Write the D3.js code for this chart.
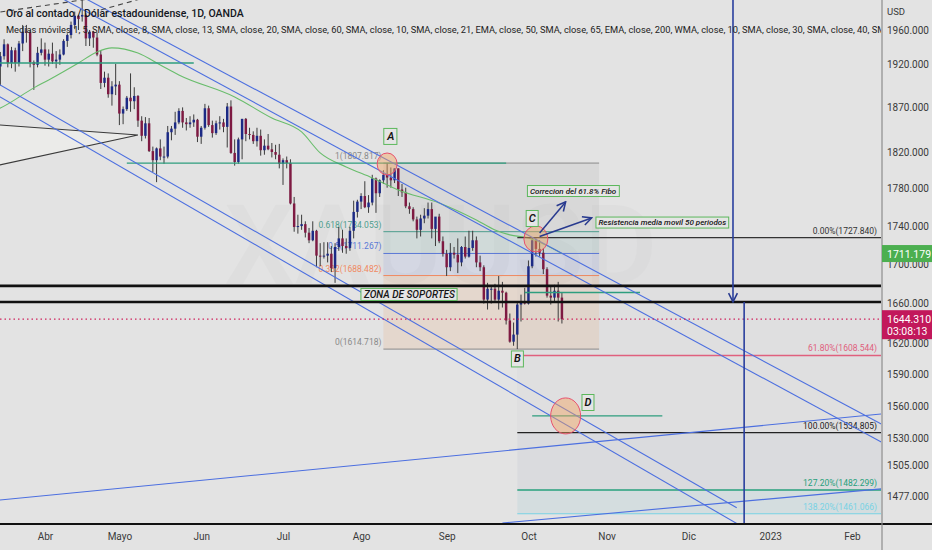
<!DOCTYPE html>
<html>
<head>
<meta charset="utf-8">
<title>XAUUSD 1D</title>
<script src="https://cdnjs.cloudflare.com/ajax/libs/d3/7.8.5/d3.min.js"></script>
<style>
  body { margin: 0; background: #e3e3e3; }
  #chart { width: 932px; height: 550px; }
  text { font-family: Roboto, "Noto Sans", sans-serif; }
</style>
</head>
<body>
<div id="chart"></div>
<script>

// date, open, high, low, close
var candles = [
  ["2022-03-14",1985,1986,1950,1952],["2022-03-15",1952,1954,1906,1917],["2022-03-16",1917,1934,1895,1929],
  ["2022-03-17",1929,1949,1925,1943],["2022-03-18",1943,1944,1916,1921],["2022-03-21",1921,1940,1915,1936],
  ["2022-03-22",1936,1939,1911,1921],["2022-03-23",1921,1947,1917,1944],["2022-03-24",1944,1966,1935,1958],
  ["2022-03-25",1958,1966,1945,1957],["2022-03-28",1957,1960,1916,1922],["2022-03-29",1922,1924,1890,1919],
  ["2022-03-30",1919,1940,1916,1933],["2022-03-31",1933,1950,1930,1937],
  ["2022-04-01",1937,1945,1918,1925],["2022-04-04",1925,1937,1917,1932],["2022-04-05",1932,1945,1920,1923],
  ["2022-04-06",1923,1935,1915,1925],["2022-04-07",1925,1937,1919,1931],["2022-04-08",1931,1949,1930,1947],
  ["2022-04-11",1947,1956,1940,1954],["2022-04-12",1954,1970,1950,1966],["2022-04-13",1966,1982,1961,1977],
  ["2022-04-14",1977,1978,1960,1973],["2022-04-18",1976,1998,1970,1978],["2022-04-19",1978,1980,1941,1950],
  ["2022-04-20",1950,1960,1941,1958],["2022-04-21",1958,1959,1939,1951],["2022-04-22",1951,1957,1929,1931],
  ["2022-04-25",1931,1936,1891,1898],["2022-04-26",1898,1911,1893,1904],["2022-04-27",1904,1909,1881,1885],
  ["2022-04-28",1885,1900,1872,1894],["2022-04-29",1894,1920,1884,1896],
  ["2022-05-02",1896,1900,1850,1863],["2022-05-03",1863,1871,1851,1868],["2022-05-04",1868,1883,1866,1881],
  ["2022-05-05",1881,1909,1865,1877],["2022-05-06",1877,1893,1868,1883],["2022-05-09",1883,1884,1848,1855],
  ["2022-05-10",1855,1860,1832,1838],["2022-05-11",1838,1859,1835,1852],["2022-05-12",1852,1858,1820,1821],
  ["2022-05-13",1821,1826,1798,1811],["2022-05-16",1811,1825,1787,1824],["2022-05-17",1824,1834,1811,1815],
  ["2022-05-18",1815,1826,1807,1815],["2022-05-19",1815,1849,1813,1842],["2022-05-20",1842,1849,1833,1846],
  ["2022-05-23",1846,1865,1839,1853],["2022-05-24",1853,1869,1851,1866],["2022-05-25",1866,1870,1847,1853],
  ["2022-05-26",1853,1858,1844,1851],["2022-05-27",1851,1860,1847,1853],["2022-05-30",1853,1862,1848,1856],
  ["2022-05-31",1856,1857,1831,1837],
  ["2022-06-01",1837,1849,1829,1847],["2022-06-02",1847,1874,1845,1869],["2022-06-03",1869,1872,1848,1850],
  ["2022-06-06",1850,1855,1836,1841],["2022-06-07",1841,1855,1839,1852],["2022-06-08",1852,1860,1845,1853],
  ["2022-06-09",1853,1857,1842,1848],["2022-06-10",1848,1875,1825,1871],["2022-06-13",1871,1878,1818,1819],
  ["2022-06-14",1819,1834,1805,1809],["2022-06-15",1809,1836,1807,1834],["2022-06-16",1834,1857,1812,1857],
  ["2022-06-17",1857,1858,1832,1840],["2022-06-20",1840,1847,1834,1839],["2022-06-21",1839,1843,1829,1832],
  ["2022-06-22",1832,1847,1826,1838],["2022-06-23",1838,1845,1816,1822],["2022-06-24",1822,1834,1817,1827],
  ["2022-06-27",1827,1840,1822,1823],["2022-06-28",1823,1830,1814,1820],["2022-06-29",1820,1828,1812,1817],
  ["2022-06-30",1817,1829,1802,1807],
  ["2022-07-01",1807,1813,1784,1811],["2022-07-04",1811,1815,1802,1808],["2022-07-05",1808,1812,1763,1764],
  ["2022-07-06",1764,1771,1734,1739],["2022-07-07",1739,1752,1732,1740],["2022-07-08",1740,1752,1736,1742],
  ["2022-07-11",1742,1745,1728,1733],["2022-07-12",1733,1738,1722,1725],["2022-07-13",1725,1745,1724,1735],
  ["2022-07-14",1735,1736,1697,1709],["2022-07-15",1709,1722,1698,1708],["2022-07-18",1708,1723,1706,1709],
  ["2022-07-19",1709,1723,1702,1711],["2022-07-20",1711,1719,1692,1696],["2022-07-21",1696,1722,1681,1718],
  ["2022-07-22",1718,1739,1714,1727],["2022-07-25",1727,1736,1712,1719],["2022-07-26",1719,1727,1711,1717],
  ["2022-07-27",1717,1739,1714,1735],["2022-07-28",1735,1767,1727,1755],["2022-07-29",1755,1768,1749,1766],
  ["2022-08-01",1766,1775,1758,1772],["2022-08-02",1772,1788,1759,1760],["2022-08-03",1760,1773,1754,1765],
  ["2022-08-04",1765,1795,1762,1791],["2022-08-05",1791,1792,1754,1775],["2022-08-08",1775,1790,1771,1789],
  ["2022-08-09",1789,1800,1785,1795],["2022-08-10",1795,1807.82,1781,1792],["2022-08-11",1792,1803,1781,1789],
  ["2022-08-12",1789,1802,1786,1802],["2022-08-15",1802,1802,1772,1779],["2022-08-16",1779,1785,1771,1776],
  ["2022-08-17",1776,1781,1759,1761],["2022-08-18",1761,1765,1753,1758],["2022-08-19",1758,1760,1745,1747],
  ["2022-08-22",1747,1750,1727,1736],["2022-08-23",1736,1752,1729,1748],["2022-08-24",1748,1759,1743,1751],
  ["2022-08-25",1751,1765,1748,1758],["2022-08-26",1758,1765,1727,1737],["2022-08-29",1737,1745,1719,1750],
  ["2022-08-30",1750,1753,1722,1724],["2022-08-31",1724,1729,1708,1711],
  ["2022-09-01",1711,1715,1688,1697],["2022-09-02",1697,1722,1693,1712],["2022-09-05",1712,1718,1706,1710],
  ["2022-09-06",1710,1727,1691,1702],["2022-09-07",1702,1719,1698,1718],["2022-09-08",1718,1729,1706,1708],
  ["2022-09-09",1708,1735,1707,1717],["2022-09-12",1717,1735,1714,1725],["2022-09-13",1725,1729,1697,1702],
  ["2022-09-14",1702,1709,1693,1697],["2022-09-15",1697,1699,1660,1664],["2022-09-16",1664,1681,1654,1675],
  ["2022-09-19",1675,1678,1660,1675],["2022-09-20",1675,1680,1662,1664],["2022-09-21",1664,1688,1654,1673],
  ["2022-09-22",1673,1682,1656,1671],["2022-09-23",1671,1672,1639,1643],["2022-09-26",1643,1650,1621,1622],
  ["2022-09-27",1622,1641,1618,1629],["2022-09-28",1629,1661,1614.72,1659],["2022-09-29",1659,1669,1642,1661],
  ["2022-09-30",1661,1676,1659,1660],
  ["2022-10-03",1660,1704,1659,1698],["2022-10-04",1698,1727.84,1696,1725],["2022-10-05",1725,1727,1708,1716],
  ["2022-10-06",1716,1725,1708,1712],["2022-10-07",1712,1717,1690,1695],["2022-10-10",1695,1697,1666,1668],
  ["2022-10-11",1668,1678,1659,1666],["2022-10-12",1666,1679,1662,1673],["2022-10-13",1673,1682,1642,1666],
  ["2022-10-14",1666,1671,1640,1644.31]
];

var holidays = ["2022-04-15"];

// moving average line
var maPoints = [
  ["2022-03-14",1866],["2022-03-16",1869.4],["2022-03-29",1892.3],["2022-04-04",1901.4],["2022-04-14",1921.1],
  ["2022-04-22",1934.0],["2022-04-28",1938.8],["2022-05-09",1932.7],["2022-05-17",1918.8],["2022-05-24",1907.2],
  ["2022-06-14",1881.9],["2022-06-28",1858.0],["2022-07-08",1842.3],["2022-07-15",1819.0],["2022-07-26",1803.6],
  ["2022-08-04",1791.6],["2022-08-15",1778.5],["2022-08-30",1764.5],["2022-09-13",1746.4],["2022-09-20",1735.9],
  ["2022-09-26",1730.7],["2022-10-03",1727.5],["2022-10-14",1711.179]
];

var priceTicks = [1960,1920,1870,1820,1780,1740,1700,1660,1620,1590,1560,1530,1505,1477];
var monthTicks = ["2022-04-01","2022-05-02","2022-06-01","2022-07-01","2022-08-01","2022-09-01",
  "2022-10-03","2022-11-01","2022-12-01","2023-01-02","2023-02-01"];
var monthLabels = ["Abr","Mayo","Jun","Jul","Ago","Sep","Oct","Nov","Dic","2023","Feb"];

var fibRetLevels = ["1","0.618","0.5","0.382","0"];
var fibRetPrices = [1807.817,1734.053,1711.267,1688.482,1614.718];
var fibRetSpan = ["2022-08-09","2022-10-28"];

var fibExtLevels = ["0.00%","61.80%","100.00%","127.20%","138.20%"];
var fibExtPrices = [1727.840,1608.544,1534.805,1482.299,1461.066];
var fibExtStart = "2022-09-28";

// [date1, price1, date2, price2, extend]
var trendLines = [
  ["2022-04-25",1972.6,"2023-01-09",1573.2,"both"],
  ["2022-04-25",1987.8,"2023-01-09",1589.9,"both"],
  ["2022-03-14",1900.4,"2022-12-20",1466.4,"none"],
  ["2022-03-14",1886.6,"2022-12-26",1444.9,"none"],
  ["2022-03-14",1472.7,"2023-02-10",1552.1,"right"],
  ["2022-09-22",1452.9,"2023-02-10",1483.1,"right"]
];
var dashedLines = [
  ["2022-03-16",1981.5,"2022-04-18",1996.0,"right"],
  ["2022-04-25",1984.0,"2022-05-05",1994.0,"right"]
];
var wedgePoints = [["2022-03-14",1850.7],["2022-05-09",1838.9],["2022-03-14",1804.1]];

var supportPrices = [1677.9,1661.6];
// [from, to, price]
var greenLevels = [
  ["2022-03-14","2022-05-30",1921.1],
  ["2022-05-04","2022-09-23",1807.8],
  ["2022-09-30","2022-11-14",1671.2],
  ["2022-10-04","2022-11-22",1550.5]
];
var projectionDates = ["2022-12-19","2022-12-22"];
var projectionPrice = 1661.6;

var circleMarks = [["2022-08-10",1806.8],["2022-10-05",1726.4],["2022-10-17",1550.5]];
var pointLabels = [["A","2022-08-11",1837.3],["B","2022-09-28",1605.1],["C","2022-10-04",1748.0],["D","2022-10-25",1563.2]];
var noteLabels = [
  ["ZONA DE SOPORTES","2022-08-18",1669.2],
  ["Correcion del 61.8% Fibo","2022-10-19",1777.4],
  ["Resistencia media movil 50 periodos","2022-11-22",1743.7]
];
var arrows = [["2022-10-06",1732.7,"2022-10-17",1765.7],["2022-10-06",1729.0,"2022-10-26",1748.6]];

var titleText = "Oro al contado / Dólar estadounidense, 1D, OANDA";
var studyText = "Medias móviles 1, 5, SMA, close, 8, SMA, close, 13, SMA, close, 20, SMA, close, 60, SMA, close, 10, SMA, close, 21, EMA, close, 50, SMA, close, 65, EMA, close, 200, WMA, close, 10, SMA, close, 30, SMA, close, 40, SMA, close, 100";
var countdown = "03:08:13";


PriceChart = function(_parentElement){
  this.parentElement = _parentElement;
  this.initVis();
}

PriceChart.prototype.initVis = function() {
  var vis = this;

  vis.width = 881;
  vis.height = 523;

  vis.svg = d3.select("#" + vis.parentElement).append("svg")
    .attr("width", 932)
    .attr("height", 550);

  vis.svg.append("rect")
    .attr("width", 932)
    .attr("height", 550)
    .attr("fill", "#e3e3e3");

  var fmt = d3.utcFormat("%Y-%m-%d");
  vis.days = d3.utcDays(new Date(Date.UTC(2022, 2, 14)), new Date(Date.UTC(2023, 2, 1)))
    .filter(d => d.getUTCDay() != 0 && d.getUTCDay() != 6)
    .map(fmt)
    .filter(s => holidays.indexOf(s) < 0);
  vis.dayIndex = {};
  vis.days.forEach((s, i) => vis.dayIndex[s] = i);

  var i0 = vis.dayIndex["2022-04-01"];
  vis.x = d3.scaleLinear()
    .domain([i0 - 12.1, i0 + 224.8])
    .range([0, vis.width]);

  vis.y = d3.scaleLog()
    .domain([1452.9, 1996.0])
    .range([vis.height, 0]);

  vis.svg.append("defs").append("clipPath")
    .attr("id", "plot-clip")
    .append("rect")
    .attr("width", vis.width)
    .attr("height", vis.height);

  var defs = vis.svg.select("defs");
  defs.append("marker")
    .attr("id", "open-arrow")
    .attr("viewBox", "0 0 10 10")
    .attr("refX", 9).attr("refY", 5)
    .attr("markerWidth", 11).attr("markerHeight", 11)
    .attr("markerUnits", "userSpaceOnUse")
    .attr("orient", "auto")
    .append("path")
    .attr("d", "M1,1 L9,5 L1,9")
    .attr("fill", "none")
    .attr("stroke", "#283a8f")
    .attr("stroke-width", 1.4);

  vis.plot = vis.svg.append("g").attr("clip-path", "url(#plot-clip)");

  vis.updateVis();
}

PriceChart.prototype.X = function(s) {
  return this.x(this.dayIndex[s]);
}

PriceChart.prototype.drawLine = function(g, d) {
  var vis = this;
  var x1 = vis.X(d[0]), y1 = vis.y(d[1]), x2 = vis.X(d[2]), y2 = vis.y(d[3]);
  var k = (y2 - y1) / (x2 - x1);
  if (d[4] == "right" || d[4] == "both") { y2 = y2 + k * (1000 - x2); x2 = 1000; }
  if (d[4] == "both") { y1 = y1 - k * (x1 + 100); x1 = -100; }
  return g.append("line")
    .attr("x1", x1).attr("y1", y1)
    .attr("x2", x2).attr("y2", y2);
}

PriceChart.prototype.boxLabel = function(g, txt, cx, cy, size, padX, padY, weight) {
  var t = g.append("text")
    .attr("x", cx).attr("y", cy)
    .attr("text-anchor", "middle")
    .attr("dominant-baseline", "central")
    .style("font-size", size + "px")
    .style("font-style", "italic")
    .style("font-weight", weight)
    .attr("fill", "#151515")
    .text(txt);
  var b = t.node().getBBox();
  g.insert("rect", () => t.node())
    .attr("x", b.x - padX).attr("y", b.y - padY)
    .attr("width", b.width + 2 * padX).attr("height", b.height + 2 * padY)
    .attr("fill", "#e5e5e5")
    .attr("stroke", "#5cb85c")
    .attr("stroke-width", 1);
}

PriceChart.prototype.updateVis = function(){
  var vis = this;
  var x = vis.x, y = vis.y, W = vis.width, H = vis.height;

  // watermark
  vis.plot.append("text")
    .attr("x", W / 2).attr("y", 284)
    .attr("text-anchor", "middle")
    .style("font-size", "112px")
    .style("font-weight", 600)
    .attr("fill", "rgba(0,0,0,0.02)")
    .text("XAUUSD");
  vis.plot.append("text")
    .attr("x", W / 2).attr("y", 326)
    .attr("text-anchor", "middle")
    .style("font-size", "33px")
    .attr("fill", "rgba(0,0,0,0.022)")
    .text("Oro al contado / Dólar estadounidense");

  // fib retracement A -> B
  var retColors = ["#8a8a8a", "#4d9e8e", "#5a78d6", "#f08a62", "#8a8a8a"];
  var retFills = ["rgba(130,130,130,0.10)", "rgba(70,160,150,0.12)", "rgba(90,120,225,0.11)", "rgba(235,150,80,0.15)"];
  var rx0 = vis.X(fibRetSpan[0]), rx1 = vis.X(fibRetSpan[1]);
  var fib = vis.plot.append("g");
  fib.selectAll(".ret-fill")
    .data(d3.range(fibRetPrices.length - 1))
    .enter().append("rect")
    .attr("class", "ret-fill")
    .attr("x", rx0)
    .attr("y", i => y(fibRetPrices[i]))
    .attr("width", rx1 - rx0)
    .attr("height", i => y(fibRetPrices[i + 1]) - y(fibRetPrices[i]))
    .attr("fill", i => retFills[i]);
  fib.selectAll(".ret-line")
    .data(fibRetPrices)
    .enter().append("line")
    .attr("class", "ret-line")
    .attr("x1", rx0).attr("x2", rx1)
    .attr("y1", d => y(d)).attr("y2", d => y(d))
    .attr("stroke", (d, i) => retColors[i]);
  fib.selectAll(".ret-label")
    .data(fibRetPrices)
    .enter().append("text")
    .attr("class", "ret-label")
    .attr("x", rx0 - 2)
    .attr("y", d => y(d) - 4)
    .attr("text-anchor", "end")
    .style("font-size", "8.5px")
    .attr("fill", (d, i) => retColors[i])
    .text((d, i) => fibRetLevels[i] + "(" + d.toFixed(3) + ")");

  // fib extension B -> C
  var extColors = ["#333333", "#e0607e", "#222222", "#27a07c", "#78d2e4"];
  var extFills = ["rgba(120,120,150,0.03)", "rgba(120,120,150,0.04)", "rgba(90,110,150,0.06)", "rgba(90,180,200,0.10)"];
  var ex0 = vis.X(fibExtStart);
  fib.selectAll(".ext-fill")
    .data(d3.range(fibExtPrices.length - 1))
    .enter().append("rect")
    .attr("class", "ext-fill")
    .attr("x", ex0)
    .attr("y", i => y(fibExtPrices[i]))
    .attr("width", W - ex0)
    .attr("height", i => y(fibExtPrices[i + 1]) - y(fibExtPrices[i]))
    .attr("fill", i => extFills[i]);

  // wedge
  vis.plot.append("path")
    .attr("d", d3.line().x(d => vis.X(d[0])).y(d => y(d[1]))(wedgePoints))
    .attr("fill", "rgba(255,255,250,0.3)")
    .attr("stroke", "#3a3a3a")
    .attr("stroke-width", 1.1);

  // candles
  var bw = (x(1) - x(0)) * 0.66;
  var candle = vis.plot.selectAll(".candle")
    .data(candles)
    .enter().append("g")
    .attr("class", "candle");
  candle.append("line")
    .attr("x1", d => vis.X(d[0])).attr("x2", d => vis.X(d[0]))
    .attr("y1", d => y(d[2])).attr("y2", d => y(d[3]))
    .attr("stroke", "#3b3b3b")
    .attr("stroke-width", 1);
  candle.append("rect")
    .attr("x", d => vis.X(d[0]) - bw / 2)
    .attr("y", d => y(Math.max(d[1], d[4])))
    .attr("width", bw)
    .attr("height", d => Math.max(1, Math.abs(y(d[1]) - y(d[4]))))
    .attr("fill", d => d[4] >= d[1] ? "#1c2a85" : "#7e1a42");

  // moving average
  vis.plot.append("path")
    .attr("d", d3.line().curve(d3.curveMonotoneX).x(d => vis.X(d[0])).y(d => y(d[1]))(maPoints))
    .attr("fill", "none")
    .attr("stroke", "#69bd6c")
    .attr("stroke-width", 1.1);

  // fib lines + labels on top
  fib = vis.plot.append("g");
  fib.selectAll(".ext-line")
    .data(fibExtPrices)
    .enter().append("line")
    .attr("x1", ex0).attr("x2", W)
    .attr("y1", d => y(d)).attr("y2", d => y(d))
    .attr("stroke", (d, i) => extColors[i])
    .attr("stroke-width", (d, i) => i == 1 || i == 3 ? 1.5 : 1.2);
  fib.selectAll(".ext-label")
    .data(fibExtPrices)
    .enter().append("text")
    .attr("x", W - 4)
    .attr("y", d => y(d) - 4)
    .attr("text-anchor", "end")
    .style("font-size", "8.5px")
    .attr("fill", (d, i) => extColors[i])
    .text((d, i) => fibExtLevels[i] + "(" + d.toFixed(3) + ")");

  // green levels
  vis.plot.selectAll(".glevel")
    .data(greenLevels)
    .enter().append("line")
    .attr("x1", d => vis.X(d[0])).attr("x2", d => vis.X(d[1]))
    .attr("y1", d => y(d[2])).attr("y2", d => y(d[2]))
    .attr("stroke", "#2e9e7e")
    .attr("stroke-width", 1.3);

  // channels
  var lines = vis.plot.append("g")
    .attr("stroke", "#4c6fe0")
    .attr("stroke-width", 1.1);
  trendLines.forEach(d => vis.drawLine(lines, d));
  var dashed = vis.plot.append("g")
    .attr("stroke", "#444")
    .attr("stroke-width", 1.1)
    .attr("stroke-dasharray", "5,4");
  dashedLines.forEach(d => vis.drawLine(dashed, d));

  // support zone
  vis.plot.selectAll(".support")
    .data(supportPrices)
    .enter().append("line")
    .attr("x1", 0).attr("x2", W)
    .attr("y1", d => y(d)).attr("y2", d => y(d))
    .attr("stroke", "#111")
    .attr("stroke-width", 2.6);

  // last price line
  var last = candles[candles.length - 1];
  vis.plot.append("line")
    .attr("x1", 0).attr("x2", W)
    .attr("y1", y(last[4])).attr("y2", y(last[4]))
    .attr("stroke", "#d0245e")
    .attr("stroke-width", 1.2)
    .attr("stroke-dasharray", "1.5,3");

  // projection arrow
  var px0 = vis.X(projectionDates[0]), px1 = vis.X(projectionDates[1]);
  vis.plot.append("line")
    .attr("x1", px0).attr("x2", px0)
    .attr("y1", 0).attr("y2", y(projectionPrice))
    .attr("stroke", "#2a3f9e")
    .attr("stroke-width", 1.6)
    .attr("marker-end", "url(#open-arrow)");
  vis.plot.append("line")
    .attr("x1", px1).attr("x2", px1)
    .attr("y1", y(projectionPrice)).attr("y2", H)
    .attr("stroke", "#2a3f9e")
    .attr("stroke-width", 1.6);

  // circles
  var radii = [[10, 11], [12, 13], [15, 18]];
  vis.plot.selectAll(".mark")
    .data(circleMarks)
    .enter().append("ellipse")
    .attr("cx", d => vis.X(d[0]))
    .attr("cy", d => y(d[1]))
    .attr("rx", (d, i) => radii[i][0])
    .attr("ry", (d, i) => radii[i][1])
    .attr("fill", "rgba(245,165,95,0.45)")
    .attr("stroke", "#e8506e")
    .attr("stroke-width", 1);

  // arrows from C
  vis.plot.selectAll(".arrow")
    .data(arrows)
    .enter().append("line")
    .attr("x1", d => vis.X(d[0])).attr("y1", d => y(d[1]))
    .attr("x2", d => vis.X(d[2])).attr("y2", d => y(d[3]))
    .attr("stroke", "#283a8f")
    .attr("stroke-width", 1.5)
    .attr("marker-end", "url(#open-arrow)");

  // labels
  var lab = vis.plot.append("g");
  pointLabels.forEach(d => vis.boxLabel(lab, d[0], vis.X(d[1]), y(d[2]), 11, 2.5, 1.5, 600));
  vis.boxLabel(lab, noteLabels[0][0], vis.X(noteLabels[0][1]), y(noteLabels[0][2]), 10, 2, 0.5, 500);
  noteLabels.slice(1).forEach(d => vis.boxLabel(lab, d[0], vis.X(d[1]), y(d[2]), 8, 2.5, 1, 500));

  // header
  vis.svg.append("text")
    .attr("x", 6).attr("y", 17)
    .style("font-size", "10.5px")
    .style("font-weight", 500)
    .attr("fill", "#131722")
    .text(titleText);
  vis.svg.append("g").attr("clip-path", "url(#plot-clip)")
    .append("text")
    .attr("x", 6).attr("y", 33)
    .style("font-size", "9.3px")
    .attr("fill", "#222")
    .text(studyText);

  // axes
  vis.svg.append("line")
    .attr("x1", 0).attr("x2", 932)
    .attr("y1", H + 1).attr("y2", H + 1)
    .attr("stroke", "#111")
    .attr("stroke-width", 2);
  vis.svg.append("line")
    .attr("x1", W + 1).attr("x2", W + 1)
    .attr("y1", 0).attr("y2", 550)
    .attr("stroke", "#8c8c8c")
    .attr("stroke-width", 1.2);

  vis.svg.append("g")
    .attr("class", "axis")
    .attr("transform", "translate(" + (W + 1) + ",0)")
    .call(d3.axisRight(y).tickValues(priceTicks).tickFormat(d3.format(".3f")).tickSize(0).tickPadding(5));
  vis.svg.append("g")
    .attr("class", "axis")
    .attr("transform", "translate(0," + (H + 1) + ")")
    .call(d3.axisBottom(x)
      .tickValues(monthTicks.map(s => vis.dayIndex[s]))
      .tickFormat((d, i) => monthLabels[i])
      .tickSize(0).tickPadding(9));
  vis.svg.selectAll(".axis .domain").remove();
  vis.svg.selectAll(".axis text")
    .style("font-family", "Roboto, sans-serif")
    .style("font-size", "10px")
    .attr("fill", "#3a3a3a");

  vis.svg.append("text")
    .attr("x", W + 6).attr("y", 15)
    .style("font-size", "9.5px")
    .attr("fill", "#3a3a3a")
    .text("USD");

  // price badges
  var ma = maPoints[maPoints.length - 1][1];
  vis.svg.append("rect")
    .attr("x", W + 1).attr("y", y(ma) - 8.5)
    .attr("width", 50).attr("height", 17)
    .attr("fill", "#4caf50");
  vis.svg.append("text")
    .attr("x", W + 6).attr("y", y(ma) + 4)
    .style("font-size", "10.5px")
    .attr("fill", "#fff")
    .text(ma.toFixed(3));

  vis.svg.append("rect")
    .attr("x", W + 1).attr("y", y(last[4]) - 9)
    .attr("width", 50).attr("height", 29)
    .attr("fill", "#c2185b");
  vis.svg.append("text")
    .attr("x", W + 6).attr("y", y(last[4]) + 4)
    .style("font-size", "10.5px")
    .attr("fill", "#fff")
    .text(last[4].toFixed(3));
  vis.svg.append("text")
    .attr("x", W + 6).attr("y", y(last[4]) + 16)
    .style("font-size", "10.5px")
    .attr("fill", "#fff")
    .text(countdown);
}

var chart = new PriceChart("chart");

</script>
</body>
</html>
